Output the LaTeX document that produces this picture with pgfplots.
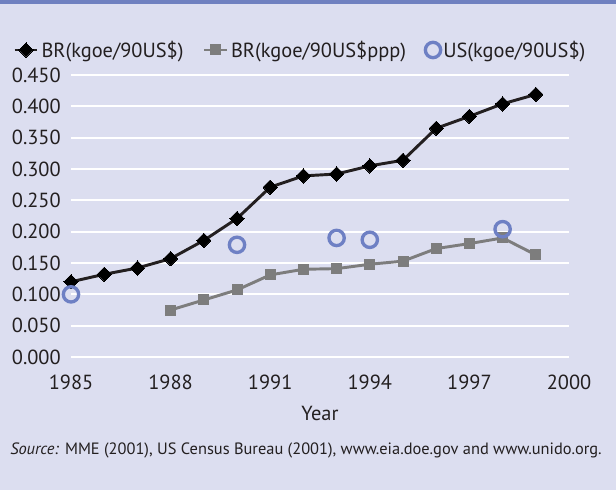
\documentclass[border=0pt]{standalone}
\usepackage{pgfplots}
\pgfplotsset{compat=1.18}
\usepackage{fontspec}
\setmainfont{PT Sans}
\definecolor{bg}{RGB}{220,222,240}
\definecolor{band}{RGB}{111,128,192}
\definecolor{usblue}{RGB}{110,128,196}
\definecolor{dark}{RGB}{35,31,32}
\definecolor{grayline}{RGB}{125,125,125}
\pgfplotsset{
  mylinelegend/.style={legend image code/.code={\draw[mark repeat=2,mark phase=2,##1] plot coordinates {(0pt,0pt) (8.5pt,0pt) (17pt,0pt)};}},
  mydotlegend/.style={legend image code/.code={\draw[##1] plot coordinates {(0pt,0pt)};}},
}
\begin{document}
\begin{tikzpicture}
\useasboundingbox (0,0) rectangle (462pt,367.5pt);
\fill[bg] (0,0) rectangle (462pt,367.5pt);
\fill[band] (0,364.8pt) rectangle (462pt,367.5pt);
\begin{axis}[
  at={(53.25pt,99.75pt)}, anchor=south west,
  scale only axis, width=373.5pt, height=211.5pt,
  xmin=1985, xmax=2000, ymin=0, ymax=0.45,
  clip=false,
  axis line style={draw=none},
  tick style={draw=none},
  ymajorgrids, grid style={white, line width=1.5pt},
  xtick={1985,1988,1991,1994,1997,2000},
  ytick={0,0.05,0.1,0.15,0.2,0.25,0.3,0.35,0.4,0.45},
  /pgf/number format/assume math mode=true,
  xticklabel style={/pgf/number format/1000 sep={}, anchor=center, inner sep=0pt, yshift=-19pt},
  yticklabel style={/pgf/number format/.cd, fixed, fixed zerofill, precision=3, /tikz/.cd, anchor=east, inner sep=0pt, xshift=-7.5pt},
  tick label style={font=\fontsize{15.3}{17}\selectfont, text=dark},
  xlabel={Year},
  xlabel style={at={(axis description cs:0.5,0)}, anchor=center, yshift=-42pt, font=\fontsize{15.3}{17}\selectfont, text=dark},
  legend columns=3,
  legend style={draw=none, fill=none, inner sep=0pt, at={(-0.1165,1.0887)}, anchor=west,
    font=\fontsize{15.3}{17}\selectfont, text=dark,
    /tikz/every even column/.append style={column sep=12.5pt}},
]
\addplot[dark, line width=2.2pt, mark=square*, mark size=3.8pt, mark options={rotate=45, fill=black, draw=black, line width=0pt}, mylinelegend]
coordinates {
(1985,0.120) (1986,0.132) (1987,0.142) (1988,0.157) (1989,0.186) (1990,0.221)
(1991,0.271) (1992,0.289) (1993,0.292) (1994,0.305) (1995,0.314) (1996,0.365)
(1997,0.384) (1998,0.404) (1999,0.419)
};
\addlegendentry{BR(kgoe/90US\$)}
\addplot[grayline, line width=2.2pt, mark=square*, mark size=3.75pt, mark options={fill=grayline, draw=grayline, line width=0pt}, mylinelegend]
coordinates {
(1988,0.075) (1989,0.091) (1990,0.107) (1991,0.131) (1992,0.140) (1993,0.141)
(1994,0.148) (1995,0.153) (1996,0.173) (1997,0.181) (1998,0.190) (1999,0.163)
};
\addlegendentry{BR(kgoe/90US\$ppp)}
\addplot[only marks, mark=o, mark size=5.75pt, mark options={draw=usblue, line width=2.5pt}, mydotlegend]
coordinates {
(1985,0.100) (1990,0.179) (1993,0.190) (1994,0.187) (1998,0.204)
};
\addlegendentry{US(kgoe/90US\$)}
\end{axis}
\node[anchor=base west, inner sep=0pt, font=\fontsize{12.3}{14}\selectfont, text=dark] at (7.5pt,27pt)
  {\textit{Source:} MME (2001), US Census Bureau (2001), www.eia.doe.gov and www.unido.org.};
\end{tikzpicture}
\end{document}
